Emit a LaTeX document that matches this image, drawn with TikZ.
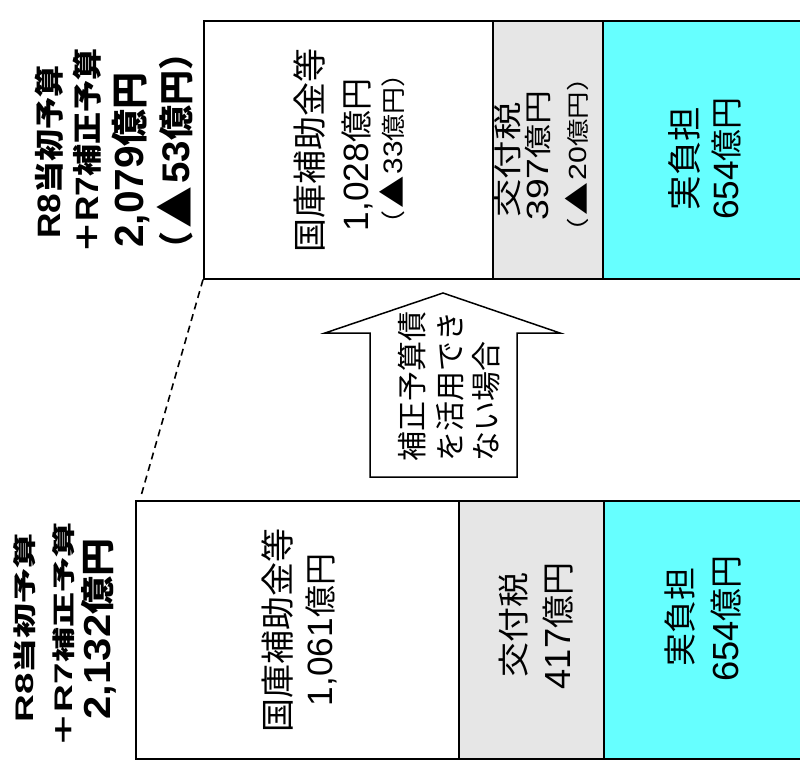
\documentclass[tikz,border=0pt]{standalone}
\usepackage{fontspec}
\usepackage{graphicx}
\newfontfamily\jp{Noto Sans CJK JP}
\newfontfamily\lat[Scale=1.1]{Liberation Sans}
\definecolor{kgray}{HTML}{E6E6E6}
\definecolor{kcyan}{HTML}{66FFFF}
\newcommand\sqz[2]{\scalebox{1}[#1]{#2}}
\newcommand\fs[1]{\fontsize{#1}{#1}\selectfont}
\newcommand\la[1]{{\lat #1}}
\newcommand\tri{\kern0.08em\raisebox{-0.06em}{\scalebox{1.2}{▲}}\kern0.08em}
\tikzset{
  bar/.style={draw=black, line width=1.6pt, inner sep=0pt, anchor=north west},
  txt/.style={rotate=90, inner sep=0pt, font=\jp},
  btxt/.style={rotate=90, inner sep=0pt, font=\jp\bfseries},
}
\begin{document}
\begin{tikzpicture}[x=1pt,y=-1pt]
\useasboundingbox (0,0) rectangle (800,771);
\clip (0,0) rectangle (800,771);
\fill[white] (0,0) rectangle (800,771);

% top bars
\node[bar, fill=white, minimum width=289pt, minimum height=258pt] (tA) at (203,20) {};
\node[bar, fill=kgray, minimum width=110pt, minimum height=258pt] (tB) at (492,20) {};
\node[bar, fill=kcyan, minimum width=210pt, minimum height=258pt] (tC) at (602,20) {};
% bottom bars
\node[bar, fill=white, minimum width=323pt, minimum height=258pt] (bA) at (135,500) {};
\node[bar, fill=kgray, minimum width=145pt, minimum height=258pt] (bB) at (458,500) {};
\node[bar, fill=kcyan, minimum width=210pt, minimum height=258pt] (bC) at (603,500) {};

% dashed connector
\coordinate (dEnd) at (141,496);
\draw[line width=1.6pt, dash pattern=on 7pt off 5pt] (tA.south west) -- (dEnd);

% block arrow
\draw[line width=1.5pt, fill=white] (443,293) -- (560,333) -- (517,333) -- (517,477)
  -- (370,477) -- (370,333) -- (325,333) -- cycle;
\node[txt, anchor=west] (ar1) at (412.5,462) {\fs{30}補正予算債};
\node[txt, anchor=west] (ar2) at (450,462) {\fs{30}を活用でき};
\node[txt, anchor=west] (ar3) at (486.5,462) {\fs{30}ない場合};

% top label
\node[btxt] (tl1) at (49.5,152) {\fs{32}\sqz{0.92}{\la{R8}当初予算}};
\node[btxt] (tl2) at (87.5,151) {\fs{32}\sqz{0.92}{＋\la{R7}補正予算}};
\node[btxt] (tl3) at (131,160) {\fs{37}\la{2,079}億円};
\node[btxt] (tl4) at (175,151) {\fs{35}（\tri\la{53}億円）};

% bottom label
\node[btxt] (bl1) at (25,628) {\fs{35}\sqz{0.66}{\la{R8}当初予算}};
\node[btxt] (bl2) at (64,635) {\fs{35}\sqz{0.66}{＋\la{R7}補正予算}};
\node[btxt] (bl3) at (99,629) {\fs{38}\sqz{0.9}{\la{2,132}億円}};

% top texts
\node[txt] (ta1) at (310,150) {\fs{34}国庫補助金等};
\node[txt] (ta2) at (357,155) {\fs{32}\la{1,028}億円};
\node[txt] (ta3) at (392,149) {\fs{27}\sqz{0.9}{（\tri\la{33}億円）}};
\node[txt] (tb1) at (507.5,160) {\fs{38.5}\sqz{0.74}{交付税}};
\node[txt] (tb2) at (537.5,155.5) {\fs{34}\sqz{0.82}{\la{397}億円}};
\node[txt] (tb3) at (577,155) {\fs{27.5}\sqz{0.82}{（\tri\la{20}億円）}};
\node[txt] (tc1) at (684,158.5) {\fs{34.5}実負担};
\node[txt] (tc2) at (726.5,158.5) {\fs{32}\la{654}億円};

% bottom texts
\node[txt] (ba1) at (277.5,630.5) {\fs{34}国庫補助金等};
\node[txt] (ba2) at (321.5,630) {\fs{32}\la{1,061}億円};
\node[txt] (bb1) at (514,625) {\fs{35}\sqz{0.9}{交付税}};
\node[txt] (bb2) at (558.5,626) {\fs{33}\la{417}億円};
\node[txt] (bc1) at (680,617) {\fs{33}実負担};
\node[txt] (bc2) at (726.5,618.5) {\fs{33}\la{654}億円};
\end{tikzpicture}
\end{document}
